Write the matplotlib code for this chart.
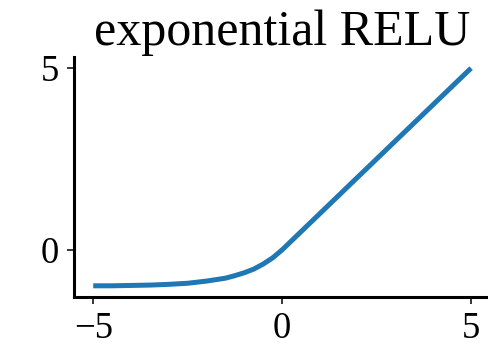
import matplotlib.pyplot as plt

plt.rcParams['font.family'] = ['Liberation Serif', 'DejaVu Serif']

# sampled ELU curve
x = [-5, -4.5, -4, -3.5, -3, -2.5, -2, -1.5, -1.25, -1, -0.75, -0.5, -0.25,
     0, 0.5, 1, 2, 3, 4, 5]
y = [-0.99, -0.99, -0.98, -0.97, -0.95, -0.92, -0.86, -0.78, -0.71, -0.63,
     -0.53, -0.39, -0.22, 0, 0.5, 1, 2, 3, 4, 5]
xticks = [-5, 0, 5]
yticks = [0, 5]

fig = plt.figure(figsize=(4.89, 3.47), dpi=100)
ax = fig.add_axes([0.152, 0.145, 0.85, 0.69])

ax.plot(x, y, color='#1f77b4', lw=3.6, solid_capstyle='butt')
ax.set_title('exponential RELU', fontsize=36, pad=8.6)

ax.set_xticks(xticks)
ax.set_yticks(yticks)
ax.tick_params(labelsize=26.5, length=5, width=1.1, pad=6)
for side in ['top', 'right']:
    ax.spines[side].set_visible(False)
for side in ['left', 'bottom']:
    ax.spines[side].set_linewidth(2.2)

fig.savefig('out.png', dpi=100)
